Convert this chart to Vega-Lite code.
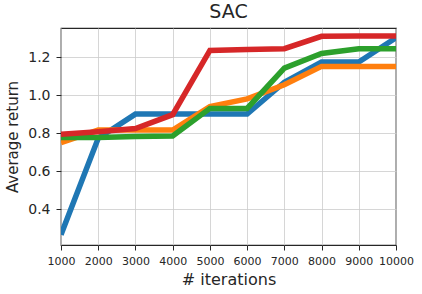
{
  "$schema": "https://vega.github.io/schema/vega-lite/v6.json",
  "width": 335,
  "height": 217,
  "autosize": "none",
  "padding": {"left": 61, "top": 28, "right": 26, "bottom": 49},
  "background": "white",
  "config": {
    "font": "DejaVu Sans",
    "view": {"stroke": "#262626", "strokeWidth": 1.25},
    "axis": {"gridColor": "#cccccc", "gridWidth": 0.8, "domain": false, "tickColor": "#262626", "tickSize": 5, "tickWidth": 1, "labelColor": "#262626", "titleColor": "#262626", "titleFontWeight": "normal"}
  },
  "title": {"text": "SAC", "fontSize": 19, "fontWeight": "normal", "color": "#262626", "offset": 6, "font": "DejaVu Sans"},
  "data": {"values": [
    {"it": 1000, "s": "a", "v": 0.265}, {"it": 2000, "s": "a", "v": 0.773}, {"it": 3000, "s": "a", "v": 0.90}, {"it": 4000, "s": "a", "v": 0.90}, {"it": 5000, "s": "a", "v": 0.90}, {"it": 6000, "s": "a", "v": 0.90}, {"it": 7000, "s": "a", "v": 1.068}, {"it": 8000, "s": "a", "v": 1.174}, {"it": 9000, "s": "a", "v": 1.174}, {"it": 10000, "s": "a", "v": 1.302},
    {"it": 1000, "s": "b", "v": 0.75}, {"it": 2000, "s": "b", "v": 0.816}, {"it": 3000, "s": "b", "v": 0.816}, {"it": 4000, "s": "b", "v": 0.816}, {"it": 5000, "s": "b", "v": 0.939}, {"it": 6000, "s": "b", "v": 0.98}, {"it": 7000, "s": "b", "v": 1.054}, {"it": 8000, "s": "b", "v": 1.151}, {"it": 9000, "s": "b", "v": 1.151}, {"it": 10000, "s": "b", "v": 1.151},
    {"it": 1000, "s": "c", "v": 0.777}, {"it": 2000, "s": "c", "v": 0.777}, {"it": 3000, "s": "c", "v": 0.782}, {"it": 4000, "s": "c", "v": 0.785}, {"it": 5000, "s": "c", "v": 0.93}, {"it": 6000, "s": "c", "v": 0.93}, {"it": 7000, "s": "c", "v": 1.142}, {"it": 8000, "s": "c", "v": 1.219}, {"it": 9000, "s": "c", "v": 1.244}, {"it": 10000, "s": "c", "v": 1.244},
    {"it": 1000, "s": "d", "v": 0.794}, {"it": 2000, "s": "d", "v": 0.807}, {"it": 3000, "s": "d", "v": 0.824}, {"it": 4000, "s": "d", "v": 0.897}, {"it": 5000, "s": "d", "v": 1.235}, {"it": 6000, "s": "d", "v": 1.24}, {"it": 7000, "s": "d", "v": 1.244}, {"it": 8000, "s": "d", "v": 1.309}, {"it": 9000, "s": "d", "v": 1.311}, {"it": 10000, "s": "d", "v": 1.311}
  ]},
  "mark": {"type": "line", "strokeWidth": 5.5, "clip": true, "strokeCap": "butt"},
  "encoding": {
    "x": {"field": "it", "type": "quantitative", "scale": {"domain": [1000, 10000], "nice": false, "zero": false},
      "axis": {"values": [1000,2000,3000,4000,5000,6000,7000,8000,9000,10000], "format": "d", "title": "# iterations", "labelFontSize": 11, "titleFontSize": 16, "titlePadding": 5, "labelPadding": 5, "labelFlush": false}},
    "y": {"field": "v", "type": "quantitative", "scale": {"domain": [0.211, 1.353], "nice": false, "zero": false},
      "axis": {"values": [0.4, 0.6, 0.8, 1.0, 1.2], "format": ".1f", "title": "Average return", "labelFontSize": 14, "titleFontSize": 15, "titlePadding": 7, "labelPadding": 6}},
    "color": {"field": "s", "type": "nominal", "scale": {"domain": ["a","b","c","d"], "range": ["#1f77b4", "#ff7f0e", "#2ca02c", "#d62728"]}, "legend": null}
  }
}
